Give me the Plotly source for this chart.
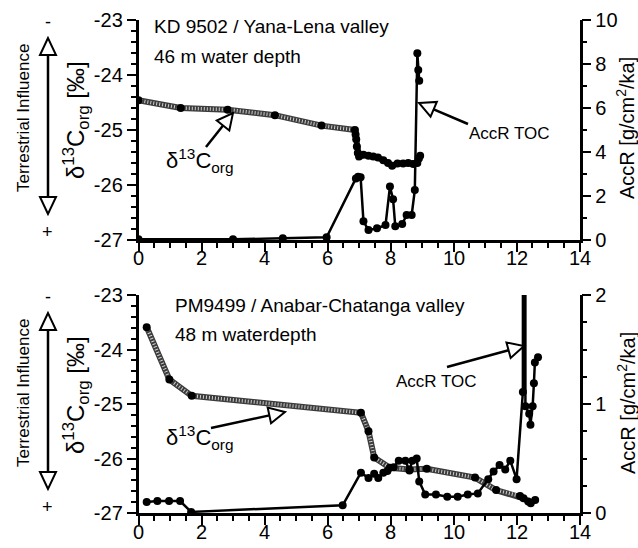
import math
import plotly.graph_objects as go

# ---------------- data ----------------
# KD 9502 (top panel)
kd_d13c_age = [0.0, 1.34, 2.83, 4.33, 5.81, 6.87, 6.89, 6.91, 6.93, 6.96, 7.0, 7.14, 7.3, 7.45,
               7.6, 7.77, 7.92, 8.05, 8.22, 8.4, 8.56, 8.72, 8.85, 8.9, 8.94]
kd_d13c = [-24.46, -24.6, -24.63, -24.73, -24.92, -25.0, -25.08, -25.17, -25.3, -25.42, -25.48,
           -25.45, -25.47, -25.48, -25.5, -25.55, -25.6, -25.65, -25.61, -25.61, -25.6, -25.62,
           -25.6, -25.52, -25.47]
kd_acc_age = [0.0, 3.0, 4.58, 5.97, 6.9, 6.97, 7.05, 7.14, 7.3, 7.57, 7.84, 7.98, 8.08, 8.15,
              8.37, 8.51, 8.67, 8.77, 8.85, 8.88, 8.91]
kd_acc = [0.03, 0.03, 0.08, 0.12, 2.8, 2.88, 2.85, 0.85, 0.45, 0.53, 0.68, 2.43, 1.85, 0.62,
          0.73, 1.14, 1.14, 2.27, 8.49, 7.73, 7.24]

# PM9499 (bottom panel)
pm_d13c_age = [0.26, 0.98, 1.69, 7.06, 7.3, 7.48, 7.98, 8.6, 9.15, 10.68, 11.35, 12.11, 12.22,
               12.37, 12.45, 12.59]
pm_d13c = [-23.59, -24.55, -24.85, -25.16, -25.5, -25.98, -26.17, -26.2, -26.19, -26.35, -26.58,
           -26.69, -26.73, -26.79, -26.82, -26.76]
pm_acc_age = [0.26, 0.6, 0.97, 1.32, 1.67, 6.48, 7.06, 7.3, 7.48, 7.61, 7.77, 7.9, 8.1, 8.26,
              8.47, 8.6, 8.69, 8.83, 8.91, 9.1, 9.44, 9.8, 10.13, 10.45, 10.77, 11.1, 11.27,
              11.46, 11.64, 11.8, 12.0, 12.2, 12.25, 12.28, 12.4, 12.44, 12.51, 12.55, 12.58,
              12.68]
pm_acc = [0.1, 0.11, 0.11, 0.11, 0.01, 0.07, 0.37, 0.32, 0.36, 0.32, 0.37, 0.385, 0.42, 0.48,
          0.48, 0.39, 0.48, 0.5, 0.29, 0.17, 0.17, 0.15, 0.15, 0.17, 0.18, 0.31, 0.38, 0.44,
          0.4, 0.48, 0.31, 1.11, 40.0, 0.98, 0.91, 0.81, 0.98, 1.19, 1.38, 1.43]

x_ticks = [0, 2, 4, 6, 8, 10, 12, 14]
x_ticktext = ["0", "2", "4", "6", "8", "10", "12", "14"]
d13c_ticks = [-27, -26, -25, -24, -23]
d13c_ticktext = ["-27", "-26", "-25", "-24", "-23"]
acc_top_ticks = [0, 2, 4, 6, 8, 10]
acc_bot_ticks = [0, 1, 2]

W, H = 638, 548
FONT = "Liberation Sans, Arial, Helvetica, sans-serif"


def px(x):
    return x / W


def py(y):
    return 1 - y / H


fig = go.Figure()


def hatch_line(x, y, xa, ya):
    fig.add_trace(go.Scatter(x=x, y=y, xaxis=xa, yaxis=ya, mode="lines",
                             line=dict(color="#3c3c3c", width=6), showlegend=False,
                             hoverinfo="skip"))
    fig.add_trace(go.Scatter(x=x, y=y, xaxis=xa, yaxis=ya, mode="lines",
                             line=dict(color="#cfcfcf", width=3.5, dash="1px,2px"),
                             showlegend=False, hoverinfo="skip"))
    fig.add_trace(go.Scatter(x=x, y=y, xaxis=xa, yaxis=ya, mode="markers",
                             marker=dict(color="black", size=8), showlegend=False))


def black_line(x, y, xa, ya):
    fig.add_trace(go.Scatter(x=x, y=y, xaxis=xa, yaxis=ya, mode="lines+markers",
                             line=dict(color="black", width=2.5),
                             marker=dict(color="black", size=8), showlegend=False))


# top panel
hatch_line(kd_d13c_age, kd_d13c, "x", "y")
black_line(kd_acc_age, kd_acc, "x", "y2")
# bottom panel
hatch_line(pm_d13c_age, pm_d13c, "x2", "y3")
black_line(pm_acc_age, pm_acc, "x2", "y4")

xdom = [px(138.5), px(579.6)]
top_dom = [py(240), py(20)]
bot_dom = [py(513), py(295)]

tickfont = dict(family=FONT, size=20, color="black")


def xaxis_cfg(anchor):
    return dict(domain=xdom, anchor=anchor, range=[0, 14], tickvals=x_ticks,
                showticklabels=False, ticks="outside", ticklen=9, tickwidth=2,
                tickcolor="black", showline=True, linewidth=2.5, linecolor="black",
                showgrid=False, zeroline=False, automargin=False,
                minor=dict(dtick=0.5, tick0=0, ticks="outside", ticklen=5, tickwidth=1.5,
                           tickcolor="black"))


def yleft_cfg(dom, anchor):
    return dict(domain=dom, anchor=anchor, range=[-27, -23], tickvals=d13c_ticks,
                ticktext=d13c_ticktext, ticks="outside", ticklen=9, tickwidth=2,
                tickcolor="black", showline=True, linewidth=2.5, linecolor="black",
                showgrid=False, zeroline=False, automargin=False, tickfont=tickfont,
                minor=dict(dtick=0.2, tick0=-27, ticks="outside", ticklen=5, tickwidth=1.5,
                           tickcolor="black"))


def yright_cfg(dom, anchor, over, rng, vals, minor_dt):
    return dict(domain=dom, anchor=anchor, overlaying=over, side="right", range=rng,
                tickvals=vals, ticks="outside", ticklen=9, tickwidth=2, tickcolor="black",
                showline=True, linewidth=2.5, linecolor="black", showgrid=False,
                zeroline=False, automargin=False, tickfont=tickfont,
                minor=dict(dtick=minor_dt, tick0=0, ticks="outside", ticklen=5,
                           tickwidth=1.5, tickcolor="black"))


shapes = []
annotations = []


def text(x, y, s, size, xanchor="center", angle=0):
    annotations.append(dict(x=px(x), y=py(y), xref="paper", yref="paper", text=s,
                            showarrow=False, xanchor=xanchor, yanchor="middle",
                            textangle=angle, font=dict(family=FONT, size=size,
                                                       color="black")))


# x tick labels placed just below each x axis
for xref, ylab in (("x", 258), ("x2", 532)):
    for v, t in zip(x_ticks, x_ticktext):
        annotations.append(dict(x=v, y=py(ylab), xref=xref, yref="paper", text=t,
                                showarrow=False, xanchor="center", yanchor="middle",
                                font=tickfont))


def open_arrow(tail, tip, L=16, Wd=8):
    dx, dy = tip[0] - tail[0], tip[1] - tail[1]
    d = math.hypot(dx, dy)
    ux, uy = dx / d, dy / d
    nx, ny = -uy, ux
    bx, by = tip[0] - L * ux, tip[1] - L * uy
    shapes.append(dict(type="line", xref="paper", yref="paper", x0=px(tail[0]),
                       y0=py(tail[1]), x1=px(bx), y1=py(by),
                       line=dict(color="black", width=2.5)))
    p1 = (bx + Wd * nx, by + Wd * ny)
    p2 = (bx - Wd * nx, by - Wd * ny)
    path = "M {} {} L {} {} L {} {} Z".format(px(tip[0]), py(tip[1]), px(p1[0]), py(p1[1]),
                                              px(p2[0]), py(p2[1]))
    shapes.append(dict(type="path", xref="paper", yref="paper", path=path,
                       fillcolor="white", line=dict(color="black", width=2)))


def double_arrow(x, ytop, ybot, L=17, Wd=8):
    shapes.append(dict(type="line", xref="paper", yref="paper", x0=px(x), y0=py(ytop + L),
                       x1=px(x), y1=py(ybot - L), line=dict(color="black", width=2.5)))
    for tipy, basey in ((ytop, ytop + L), (ybot, ybot - L)):
        path = "M {} {} L {} {} L {} {} Z".format(px(x), py(tipy), px(x - Wd), py(basey),
                                                  px(x + Wd), py(basey))
        shapes.append(dict(type="path", xref="paper", yref="paper", path=path,
                           fillcolor="white", line=dict(color="black", width=2)))


d13c_title = "δ<sup>13</sup>C<sub>org</sub> [‰]"
acc_title = "AccR [g/cm<sup>2</sup>/ka]"
d13c_label = "δ<sup>13</sup>C<sub>org</sub>"

for off in (0, 275):
    text(23, 118 + off, "Terrestrial Influence", 17, angle=-90)
    double_arrow(48, 38 + off, 214 + off)
    text(48, 22 + off, "-", 18)
    text(47, 232 + off, "+", 18)
    text(76, 120 + off, d13c_title, 24, angle=-90)
    text(626, 128 + off, acc_title, 20, angle=-90)

# top panel labels
text(152, 26, "KD 9502 / Yana-Lena valley", 19, xanchor="left")
text(152, 57, "46 m water depth", 19, xanchor="left")
text(200, 160, d13c_label, 22)
text(509, 133, "AccR TOC", 17)
open_arrow((206, 147), (233, 113))
open_arrow((468, 124), (419, 103))

# bottom panel labels
text(173, 305, "PM9499 / Anabar-Chatanga valley", 19, xanchor="left")
text(173, 335, "48 m waterdepth", 19, xanchor="left")
text(200, 437, d13c_label, 22)
text(436, 381, "AccR TOC", 17)
open_arrow((211, 428), (285, 412))
open_arrow((447, 367), (524, 346))

fig.update_layout(
    width=W, height=H, margin=dict(l=0, r=0, t=0, b=0),
    paper_bgcolor="white", plot_bgcolor="white", showlegend=False,
    font=dict(family=FONT, color="black"),
    xaxis=xaxis_cfg("y"),
    yaxis=yleft_cfg(top_dom, "x"),
    yaxis2=yright_cfg(top_dom, "x", "y", [0, 10], acc_top_ticks, 1),
    xaxis2=xaxis_cfg("y3"),
    yaxis3=yleft_cfg(bot_dom, "x2"),
    yaxis4=yright_cfg(bot_dom, "x2", "y3", [0, 2], acc_bot_ticks, 0.25),
    shapes=shapes, annotations=annotations,
)

fig.write_html("out.html", config={"displayModeBar": False},
               post_script="document.body.style.margin='0';")
